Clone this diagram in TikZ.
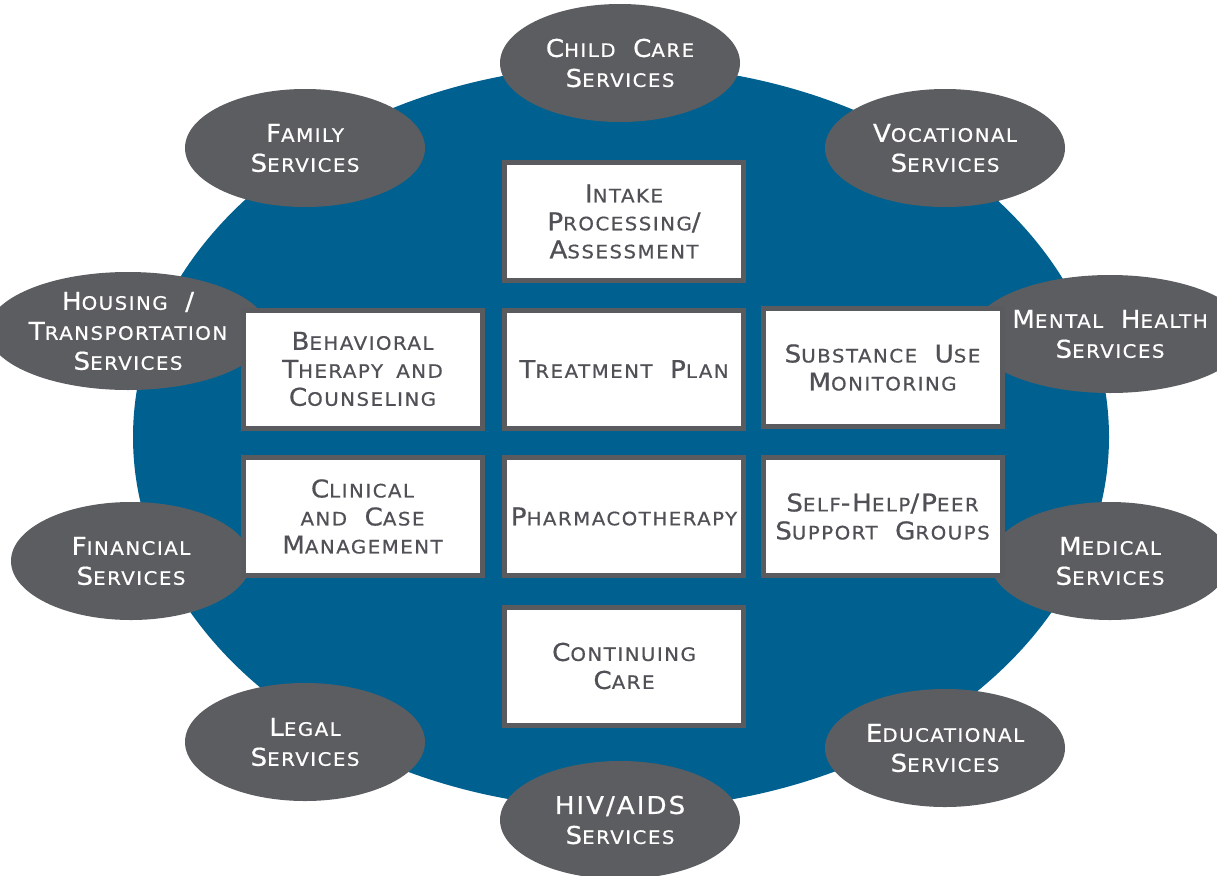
\documentclass[tikz,border=0pt]{standalone}
\usepackage{fontspec}
\setmainfont{DejaVu Sans}[LetterSpace=8,FakeStretch=1.07,FakeBold=0.6,WordSpace=1.7]
\usetikzlibrary{shapes.geometric}
\definecolor{bigblue}{RGB}{0,97,145}
\definecolor{elgray}{RGB}{92,93,96}
\definecolor{boxgray}{RGB}{90,91,94}
\definecolor{txtgray}{RGB}{80,81,86}
\newcommand\sm[1]{{\fontsize{18.5}{28}\selectfont #1}}
\tikzset{
  svc/.style={ellipse, fill=elgray, text=white, minimum width=240pt, minimum height=118pt, inner sep=0pt, align=center, font=\fontsize{24.5}{30}\selectfont},
  stepbox/.style={rectangle, draw=boxgray, line width=5pt, fill=white, text=txtgray, minimum width=239pt, minimum height=118pt, inner sep=0pt, align=center, font=\fontsize{24.5}{28}\selectfont}
}
\begin{document}
\begin{tikzpicture}[x=1pt,y=-1pt]
\useasboundingbox (0,0) rectangle (1217,875);
\fill[bigblue] (621,437) ellipse [x radius=488pt, y radius=372pt];
% services
\node[svc] (child) at (620,63) {C\sm{HILD} C\sm{ARE}\\S\sm{ERVICES}};
\node[svc] (family) at (305,148) {F\sm{AMILY}\\S\sm{ERVICES}};
\node[svc] (voc) at (945,148) {V\sm{OCATIONAL}\\S\sm{ERVICES}};
\node[svc] (housing) at (128,331) {H\sm{OUSING} /\\T\sm{RANSPORTATION}\\S\sm{ERVICES}};
\node[svc] (mental) at (1110,334) {M\sm{ENTAL} H\sm{EALTH}\\S\sm{ERVICES}};
\node[svc] (fin) at (131,561) {F\sm{INANCIAL}\\S\sm{ERVICES}};
\node[svc] (med) at (1110,561) {M\sm{EDICAL}\\S\sm{ERVICES}};
\node[svc] (legal) at (305,742) {L\sm{EGAL}\\S\sm{ERVICES}};
\node[svc] (edu) at (945,748) {E\sm{DUCATIONAL}\\S\sm{ERVICES}};
\node[svc] (hiv) at (620,820) {HIV/AIDS\\S\sm{ERVICES}};
% boxes
\node[stepbox] (intake) at (624,221.5) {I\sm{NTAKE}\\P\sm{ROCESSING}/\\A\sm{SSESSMENT}};
\node[stepbox] (plan) at (624,369) {T\sm{REATMENT} P\sm{LAN}};
\node[stepbox] (pharma) at (624,516.5) {P\sm{HARMACOTHERAPY}};
\node[stepbox] (cont) at (624,666) {C\sm{ONTINUING}\\C\sm{ARE}};
\node[stepbox] (behav) at (362.5,369) {B\sm{EHAVIORAL}\\T\sm{HERAPY AND}\\C\sm{OUNSELING}};
\node[stepbox] (clin) at (362.5,516.5) {C\sm{LINICAL}\\\sm{AND} C\sm{ASE}\\M\sm{ANAGEMENT}};
\node[stepbox] (subst) at (882.5,367.5) {S\sm{UBSTANCE} U\sm{SE}\\M\sm{ONITORING}};
\node[stepbox] (self) at (882.5,516.5) {S\sm{ELF}-H\sm{ELP}/P\sm{EER}\\S\sm{UPPORT} G\sm{ROUPS}};
\end{tikzpicture}
\end{document}
